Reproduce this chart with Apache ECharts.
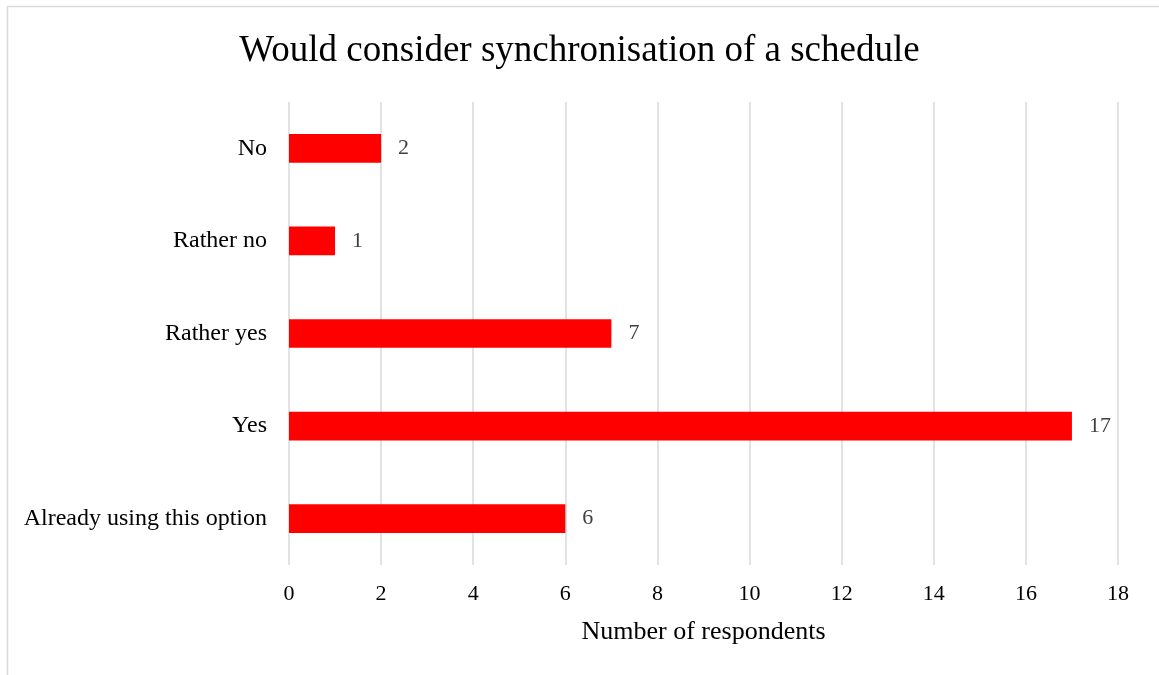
<!DOCTYPE html>
<html><head><meta charset="utf-8">
<script src="https://cdn.jsdelivr.net/npm/echarts@6/dist/echarts.min.js"></script>
<style>html,body{margin:0;padding:0;background:#fff}#c{width:1159px;height:675px}</style>
</head><body><div id="c"></div>
<script>
const titleText = 'Would consider synchronisation of a schedule';
const categories = ['Already using this option', 'Yes', 'Rather yes', 'Rather no', 'No'];
const values = [6, 17, 7, 1, 2];
const xTicks = { min: 0, max: 18, interval: 2 };
const xName = 'Number of respondents';

const font = '"Liberation Serif", "Times New Roman", serif';
const chart = echarts.init(document.getElementById('c'), null, { renderer: 'canvas' });
chart.setOption({
  backgroundColor: '#fff',
  animation: false,
  graphic: [{
    type: 'rect',
    shape: { x: 7.5, y: 6.5, width: 1160, height: 680 },
    style: { fill: 'none', stroke: '#d9d9d9', lineWidth: 1.5 },
    z: -1
  }],
  title: {
    text: titleText, left: 'center', top: 28,
    textStyle: { fontFamily: font, fontSize: 37, fontWeight: 'normal', color: '#000' }
  },
  grid: { left: 289, right: 41, top: 102, bottom: 110, containLabel: false },
  xAxis: {
    type: 'value', min: xTicks.min, max: xTicks.max, interval: xTicks.interval,
    name: xName, nameLocation: 'middle', nameGap: 54,
    nameTextStyle: { fontFamily: font, fontSize: 26, color: '#000' },
    axisLine: { show: false }, axisTick: { show: false },
    axisLabel: { fontFamily: font, fontSize: 22, color: '#000', margin: 18 },
    splitLine: { show: true, lineStyle: { color: '#d9d9d9', width: 1.5 } }
  },
  yAxis: {
    type: 'category', data: categories,
    axisLine: { show: false }, axisTick: { show: false },
    axisLabel: { fontFamily: font, fontSize: 24, color: '#000', margin: 22, padding: [4, 0, 0, 0] }
  },
  series: [{
    type: 'bar', data: values, barWidth: '31%',
    itemStyle: { color: '#ff0000' },
    label: { show: true, position: 'right', distance: 17, fontFamily: font, fontSize: 22, color: '#404040', padding: [5, 0, 0, 0] }
  }]
});
</script></body></html>
